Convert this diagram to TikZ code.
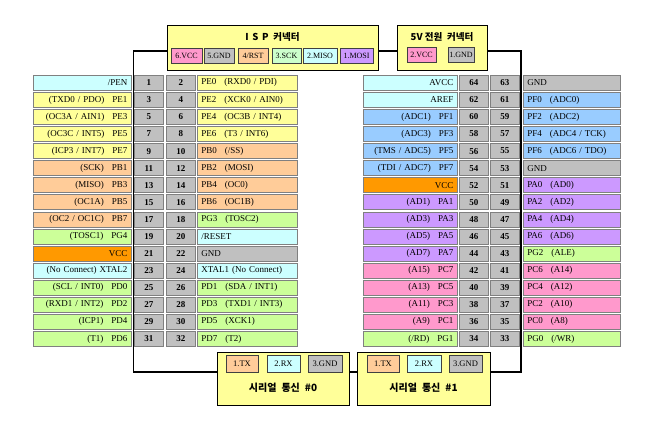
\documentclass[tikz,border=0pt]{standalone}
\usepackage{fontspec}
\setmainfont{Liberation Serif}
\newfontfamily\kr{Noto Sans CJK KR}
\definecolor{cyanL}{HTML}{CCFFFF}
\definecolor{yel}{HTML}{FFFF99}
\definecolor{orL}{HTML}{FFCC99}
\definecolor{grn}{HTML}{CCFF99}
\definecolor{org}{HTML}{FF9900}
\definecolor{gry}{HTML}{C0C0C0}
\definecolor{blu}{HTML}{99CCFF}
\definecolor{pur}{HTML}{CC99FF}
\definecolor{pnk}{HTML}{FF99CC}
\definecolor{mint}{HTML}{CCFFCC}
\definecolor{cellline}{HTML}{808080}
\newcommand\gp{\hspace{8pt}}
\tikzset{
  cellbase/.style={draw=cellline, line width=0.6pt, minimum height=15pt, inner ysep=0pt, inner xsep=4pt,
    font=\fontsize{9}{10}\selectfont, anchor=north west},
  Lone/.style={cellbase, text width=90pt, align=right},
  Lpin/.style={cellbase, fill=gry, text width=21pt, align=center, font=\fontsize{9}{10}\selectfont\bfseries},
  Lfour/.style={cellbase, text width=92pt, align=left},
  Rone/.style={cellbase, text width=86pt, align=right},
  Rfour/.style={cellbase, text width=89pt, align=left},
  conbox/.style={draw=black, line width=0.8pt, fill=yel, anchor=north west, inner sep=0pt},
  subbox/.style={draw=black!75, line width=0.6pt, inner sep=0pt, minimum height=15pt,
    font=\fontsize{8}{9}\selectfont},
  sersub/.style={subbox, minimum height=17pt, font=\fontsize{8.5}{9}\selectfont},
  ctitle/.style={font=\kr\bfseries\fontsize{9.5}{10}\selectfont, inner sep=0pt},
  stitle/.style={font=\kr\bfseries\fontsize{10}{11}\selectfont, inner sep=0pt},
  frame/.style={draw=black, line width=1.1pt},
}
\newcommand\lrow[7]{%
  \pgfmathsetmacro\ry{75+(#1-1)*17.07}
  \node[Lone, fill=#3] (La#1) at (33,\ry) {#2};
  \node[Lpin] (Lb#1) at (134,\ry) {#4};
  \node[Lpin] (Lc#1) at (166,\ry) {#5};
  \node[Lfour, fill=#7] (Ld#1) at (197,\ry) {#6};
}
\newcommand\rrow[7]{%
  \pgfmathsetmacro\ry{75+(#1-1)*17.07}
  \node[Rone, fill=#3] (Ra#1) at (363,\ry) {#2};
  \node[Lpin] (Rb#1) at (459,\ry) {#4};
  \node[Lpin] (Rc#1) at (490,\ry) {#5};
  \node[Rfour, fill=#7] (Rd#1) at (523,\ry) {#6};
}
\begin{document}
\begin{tikzpicture}[x=1pt, y=-1pt]
\useasboundingbox[fill=white] (0,0) rectangle (671,423);
% left table
\lrow{1}{/PEN}{cyanL}{1}{2}{PE0\gp(RXD0 / PDI)}{yel}
\lrow{2}{(TXD0 / PDO)\gp PE1}{yel}{3}{4}{PE2\gp(XCK0 / AIN0)}{yel}
\lrow{3}{(OC3A / AIN1)\gp PE3}{yel}{5}{6}{PE4\gp(OC3B / INT4)}{yel}
\lrow{4}{(OC3C / INT5)\gp PE5}{yel}{7}{8}{PE6\gp(T3 / INT6)}{yel}
\lrow{5}{(ICP3 / INT7)\gp PE7}{yel}{9}{10}{PB0\gp(/SS)}{orL}
\lrow{6}{(SCK)\gp PB1}{orL}{11}{12}{PB2\gp(MOSI)}{orL}
\lrow{7}{(MISO)\gp PB3}{orL}{13}{14}{PB4\gp(OC0)}{orL}
\lrow{8}{(OC1A)\gp PB5}{orL}{15}{16}{PB6\gp(OC1B)}{orL}
\lrow{9}{(OC2 / OC1C)\gp PB7}{orL}{17}{18}{PG3\gp(TOSC2)}{grn}
\lrow{10}{(TOSC1)\gp PG4}{grn}{19}{20}{/RESET}{cyanL}
\lrow{11}{VCC}{org}{21}{22}{GND}{gry}
\lrow{12}{(No Connect) XTAL2}{cyanL}{23}{24}{XTAL1 (No Connect)}{cyanL}
\lrow{13}{(SCL / INT0)\gp PD0}{grn}{25}{26}{PD1\gp(SDA / INT1)}{grn}
\lrow{14}{(RXD1 / INT2)\gp PD2}{grn}{27}{28}{PD3\gp(TXD1 / INT3)}{grn}
\lrow{15}{(ICP1)\gp PD4}{grn}{29}{30}{PD5\gp(XCK1)}{grn}
\lrow{16}{(T1)\gp PD6}{grn}{31}{32}{PD7\gp(T2)}{grn}
% right table
\rrow{1}{AVCC}{cyanL}{64}{63}{GND}{gry}
\rrow{2}{AREF}{cyanL}{62}{61}{PF0\gp(ADC0)}{blu}
\rrow{3}{(ADC1)\gp PF1}{blu}{60}{59}{PF2\gp(ADC2)}{blu}
\rrow{4}{(ADC3)\gp PF3}{blu}{58}{57}{PF4\gp(ADC4 / TCK)}{blu}
\rrow{5}{(TMS / ADC5)\gp PF5}{blu}{56}{55}{PF6\gp(ADC6 / TDO)}{blu}
\rrow{6}{(TDI / ADC7)\gp PF7}{blu}{54}{53}{GND}{gry}
\rrow{7}{VCC}{org}{52}{51}{PA0\gp(AD0)}{pur}
\rrow{8}{(AD1)\gp PA1}{pur}{50}{49}{PA2\gp(AD2)}{pur}
\rrow{9}{(AD3)\gp PA3}{pur}{48}{47}{PA4\gp(AD4)}{pur}
\rrow{10}{(AD5)\gp PA5}{pur}{46}{45}{PA6\gp(AD6)}{pur}
\rrow{11}{(AD7)\gp PA7}{pur}{44}{43}{PG2\gp(ALE)}{grn}
\rrow{12}{(A15)\gp PC7}{pnk}{42}{41}{PC6\gp(A14)}{pnk}
\rrow{13}{(A13)\gp PC5}{pnk}{40}{39}{PC4\gp(A12)}{pnk}
\rrow{14}{(A11)\gp PC3}{pnk}{38}{37}{PC2\gp(A10)}{pnk}
\rrow{15}{(A9)\gp PC1}{pnk}{36}{35}{PC0\gp(A8)}{pnk}
\rrow{16}{(/RD)\gp PG1}{grn}{34}{33}{PG0\gp(/WR)}{grn}
% frame
\coordinate (fnw) at (133.5,51);
\coordinate (fse) at (521,372);
\draw[frame] (fnw) rectangle (fse);
% ISP connector
\node[conbox, minimum width=211pt, minimum height=45pt] (isp) at (167,25) {};
\node[ctitle] (ispt) at (272.5,37) {I\, S\, P\enspace 커넥터};
\node[subbox, fill=pnk, minimum width=31pt] (i6) at (186.5,55.5) {6.VCC};
\node[subbox, fill=gry, minimum width=30pt] (i5) at (219,55.5) {5.GND};
\node[subbox, fill=orL, minimum width=30pt] (i4) at (253,55.5) {4/RST};
\node[subbox, fill=mint, minimum width=29pt] (i3) at (286.5,55.5) {3.SCK};
\node[subbox, fill=cyanL, minimum width=34pt] (i2) at (320,55.5) {2.MISO};
\node[subbox, fill=pur, minimum width=33pt] (i1) at (356.5,55.5) {1.MOSI};
% 5V connector
\node[conbox, minimum width=90pt, minimum height=45pt] (pwr) at (397,25) {};
\node[ctitle] (pwrt) at (442,37) {5V 전원\enspace 커넥터};
\node[subbox, fill=pnk, minimum width=29pt] (p2) at (421.5,55) {2.VCC};
\node[subbox, fill=gry, minimum width=26pt] (p1) at (461,55) {1.GND};
% serial 0
\node[conbox, minimum width=132pt, minimum height=53pt] (s0) at (217,352) {};
\node[sersub, fill=orL, minimum width=32pt] (s0a) at (242,363.5) {1.TX};
\node[sersub, fill=cyanL, minimum width=33pt] (s0b) at (283.5,363.5) {2.RX};
\node[sersub, fill=gry, minimum width=34pt] (s0c) at (325,363.5) {3.GND};
\node[stitle] (s0t) at (283,388) {시리얼\enspace 통신\enspace \#0};
% serial 1
\node[conbox, minimum width=133pt, minimum height=53pt] (s1) at (357,352) {};
\node[sersub, fill=orL, minimum width=32pt] (s1a) at (383,363.5) {1.TX};
\node[sersub, fill=cyanL, minimum width=34pt] (s1b) at (424,363.5) {2.RX};
\node[sersub, fill=gry, minimum width=33pt] (s1c) at (465.5,363.5) {3.GND};
\node[stitle] (s1t) at (423.5,388) {시리얼\enspace 통신\enspace \#1};
\end{tikzpicture}
\end{document}
